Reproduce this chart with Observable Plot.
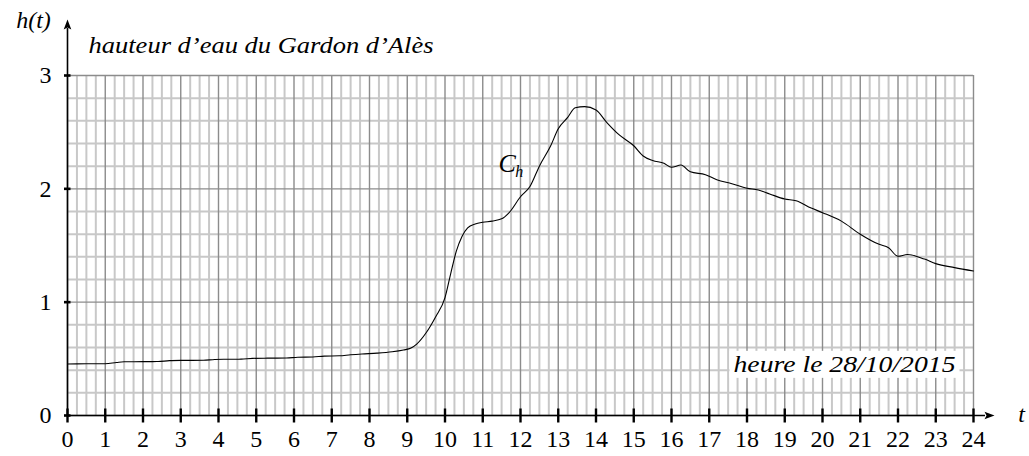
<!DOCTYPE html>
<html><head><meta charset="utf-8">
<script src="https://cdn.jsdelivr.net/npm/d3@7"></script>
<script src="https://cdn.jsdelivr.net/npm/@observablehq/plot@0.6"></script>
<style>html,body{margin:0;padding:0;background:#fff;} svg{display:block}
#chart svg text, #chart svg g { font-family: 'Liberation Serif', 'Times New Roman', serif !important; }</style>
</head><body><div id="chart"></div>
<script>
// ---- data ----
const hours = [0, 0.5, 1.0, 1.3, 1.5, 2.0, 2.4, 2.7, 3.0, 3.6, 3.9, 4.2, 4.6, 4.9, 5.3, 5.8, 6.1, 6.5, 6.8, 7.2, 7.5, 7.8, 8.2, 8.6, 8.9, 9.1, 9.25, 9.5, 9.75, 10.0, 10.15, 10.3, 10.45, 10.6, 10.8, 11.0, 11.25, 11.5, 11.7, 12.0, 12.25, 12.5, 12.8, 13.0, 13.25, 13.45, 13.7, 14.0, 14.3, 14.6, 15.0, 15.25, 15.5, 15.8, 16.0, 16.25, 16.5, 16.9, 17.2, 17.6, 18.0, 18.3, 18.6, 19.0, 19.3, 19.7, 20.0, 20.5, 21.0, 21.5, 21.75, 22.0, 22.25, 22.7, 23.0, 23.5, 24.0];
const heights = [0.455, 0.456, 0.457, 0.468, 0.474, 0.475, 0.476, 0.484, 0.486, 0.487, 0.494, 0.496, 0.497, 0.504, 0.506, 0.507, 0.514, 0.516, 0.524, 0.527, 0.536, 0.543, 0.550, 0.562, 0.578, 0.595, 0.63, 0.73, 0.87, 1.04, 1.25, 1.45, 1.58, 1.655, 1.69, 1.705, 1.715, 1.735, 1.79, 1.93, 2.02, 2.20, 2.38, 2.53, 2.63, 2.715, 2.725, 2.695, 2.58, 2.48, 2.38, 2.29, 2.25, 2.225, 2.19, 2.21, 2.15, 2.125, 2.08, 2.045, 2.005, 1.99, 1.955, 1.91, 1.895, 1.83, 1.79, 1.715, 1.60, 1.51, 1.48, 1.405, 1.42, 1.38, 1.34, 1.305, 1.275];
const xTicks = [0,1,2,3,4,5,6,7,8,9,10,11,12,13,14,15,16,17,18,19,20,21,22,23,24];
const yTicks = [0,1,2,3];
const titleText = ["hauteur d’eau du Gardon d’Alès"];
const dateText = ["heure le 28/10/2015"];
const yAxisName = ["h(t)"];
const xAxisName = ["t"];
const curveName = [{t: 11.65, h: 2.22, name: "C", sub: "h"}];

const data = hours.map((t, i) => ({t, h: heights[i]}));
const minorX = d3.range(1, 96).map(i => i / 4).filter(v => v % 1 !== 0);
const minorY = d3.range(1, 15).map(i => i / 5).filter(v => Math.abs(v - Math.round(v)) > 1e-9);

const sym = f => ({draw(c) { f(c); }});
const vTick = sym(c => { c.moveTo(0, -7); c.lineTo(0, 7); });
const hTick = sym(c => { c.moveTo(-3.5, 0); c.lineTo(3, 0); });
const arrowUp = sym(c => { c.moveTo(0, -9); c.lineTo(3.8, 1); c.lineTo(0, -1); c.lineTo(-3.8, 1); c.closePath(); });
const arrowRight = sym(c => { c.moveTo(9, 0); c.lineTo(-1, 3.8); c.lineTo(1, 0); c.lineTo(-1, -3.8); c.closePath(); });

const FONT = "'Liberation Serif', 'Times New Roman', serif";
const chart = Plot.plot({
  width: 1029, height: 456,
  marginLeft: 67, marginRight: 56, marginTop: 75, marginBottom: 41,
  x: {domain: [0, 24], axis: null},
  y: {domain: [0, 3], axis: null},
  style: {background: "white", fontFamily: FONT},
  marks: [
    Plot.ruleX(minorX, {stroke: "#c8c8c8", strokeWidth: 2}),
    Plot.ruleY(minorY, {stroke: "#c8c8c8", strokeWidth: 2}),
    Plot.ruleX(xTicks, {stroke: "#8c8c8c", strokeWidth: 1.4}),
    Plot.ruleY(yTicks, {stroke: "#8c8c8c", strokeWidth: 1.4}),
    Plot.ruleX([0], {stroke: "black", strokeWidth: 1.6, insetTop: -47}),
    Plot.ruleY([0], {stroke: "black", strokeWidth: 1.6, insetRight: -12}),
    Plot.dot(xTicks, {x: d => d, frameAnchor: "bottom", symbol: vTick, stroke: "black", strokeWidth: 2.4, fill: "none"}),
    Plot.dot(yTicks, {y: d => d, frameAnchor: "left", symbol: hTick, stroke: "black", strokeWidth: 2.6, fill: "none"}),
    Plot.dot([0], {x: d => d, frameAnchor: "top", dy: -47, symbol: arrowUp, fill: "black", stroke: "none"}),
    Plot.dot([0], {y: d => d, frameAnchor: "right", dx: 12, symbol: arrowRight, fill: "black", stroke: "none"}),
    Plot.line(data, {x: "t", y: "h", curve: "monotone-x", stroke: "black", strokeWidth: 1.1}),
    Plot.text(xTicks, {x: d => d, frameAnchor: "bottom", dy: 24, lineAnchor: "middle", fontSize: 24, fill: "black", fontFamily: FONT}),
    Plot.text(yTicks, {y: d => d, frameAnchor: "left", dx: -16, textAnchor: "end", lineAnchor: "middle", fontSize: 24, fill: "black", fontFamily: FONT}),
    Plot.text(titleText, {text: d => d, frameAnchor: "top-left", dx: 21, dy: -30, textAnchor: "start", lineAnchor: "middle", fontSize: 23, fontStyle: "italic", fill: "black", fontFamily: FONT, className: "title-text"}),
    Plot.text(dateText, {text: d => d, frameAnchor: "bottom-right", dx: -18, dy: -51, textAnchor: "end", lineAnchor: "middle", fontSize: 23, fontStyle: "italic", fill: "black", fontFamily: FONT, className: "date-text"}),
    Plot.text(yAxisName, {text: d => d, frameAnchor: "top-left", dx: -34, dy: -55, textAnchor: "middle", lineAnchor: "middle", fontSize: 24, fontStyle: "italic", fill: "black", fontFamily: FONT}),
    Plot.text(xAxisName, {text: d => d, frameAnchor: "bottom-right", dx: 48, dy: -1, textAnchor: "middle", lineAnchor: "middle", fontSize: 24, fontStyle: "italic", fill: "black", fontFamily: FONT}),
    Plot.text(curveName, {x: "t", y: "h", text: "name", textAnchor: "middle", lineAnchor: "middle", fontSize: 26, fontStyle: "italic", fill: "black", fontFamily: FONT}),
    Plot.text(curveName, {x: "t", y: "h", text: "sub", dx: 12, dy: 8, textAnchor: "middle", lineAnchor: "middle", fontSize: 16, fontStyle: "italic", fill: "black", fontFamily: FONT})
  ]
});
document.getElementById("chart").append(chart);

const s = d3.select(chart);
s.attr("font-family", FONT);
s.selectAll("text").each(function() { this.style.setProperty("font-family", FONT, "important"); this.setAttribute("font-family", FONT); });
s.select("g.title-text text").attr("textLength", 345).attr("lengthAdjust", "spacingAndGlyphs");
const dt = s.select("g.date-text text").attr("textLength", 222).attr("lengthAdjust", "spacingAndGlyphs");
const g = s.select("g.date-text").node();
const r = dt.node().getBoundingClientRect();
const sr = chart.getBoundingClientRect();
const rect = document.createElementNS("http://www.w3.org/2000/svg", "rect");
rect.setAttribute("x", r.left - sr.left - 4);
rect.setAttribute("y", r.top - sr.top - 1);
rect.setAttribute("width", r.width + 8);
rect.setAttribute("height", r.height + 2);
rect.setAttribute("fill", "white");
chart.insertBefore(rect, g);
</script>
</body></html>
